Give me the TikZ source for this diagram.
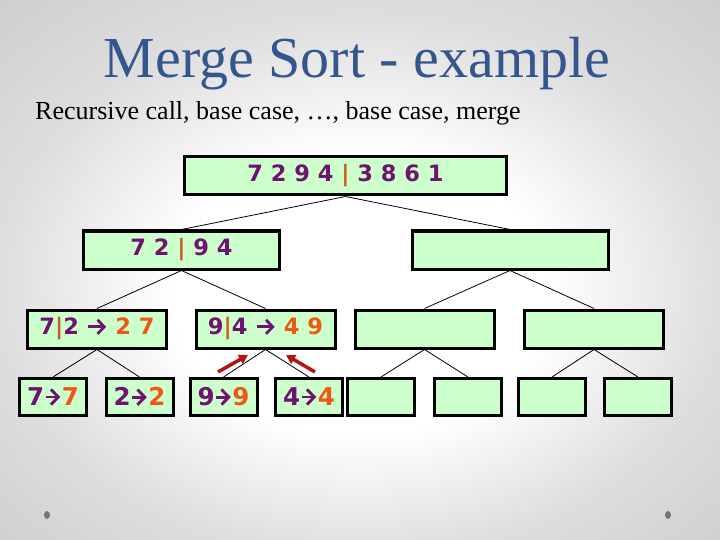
\documentclass[tikz,border=0pt]{standalone}
\usepackage{fontspec}
\setmainfont{Liberation Serif}
\newfontfamily\digitfont{DejaVu Sans}
\usetikzlibrary{arrows.meta}
\definecolor{titleblue}{RGB}{52,86,142}
\definecolor{sortpurple}{RGB}{112,18,112}
\definecolor{sortorange}{RGB}{238,88,18}
\definecolor{barorange}{RGB}{204,92,28}
\definecolor{boxgreen}{RGB}{204,255,204}
\definecolor{callred}{RGB}{178,22,22}
\definecolor{dotgray}{RGB}{118,118,118}
\pgfdeclareradialshading{slideglow}{\pgfpoint{0bp}{-3bp}}{color(0bp)=(white);
  color(13bp)=(white); color(25bp)=(black!13); color(36bp)=(black!19);
  color(50bp)=(black!19)}
\newcommand{\pd}[1]{\textcolor{sortpurple}{#1}}
\newcommand{\od}[1]{\textcolor{sortorange}{#1}}
\newcommand{\cut}{\textcolor{barorange}{|}}
% thick open-headed arrow, as drawn in the merge results
\newcommand{\goes}[1][0.8em]{\tikz[baseline=0pt]\draw[sortpurple,
  line width=0.12em, -{Straight Barb[length=0.3em, width=0.62em]}]
  (0pt,0.36em) -- (#1,0.36em);}
\tikzset{
  sortbox/.style={rectangle, draw=black, line width=3pt, fill=boxgreen,
    minimum height=38pt, inner sep=0pt,
    font=\digitfont\bfseries\fontsize{22.5}{26}\selectfont},
  toprow/.style={sortbox, minimum width=322pt},
  halfrow/.style={sortbox, minimum width=196pt},
  quarterrow/.style={sortbox, minimum width=139pt},
  leafbox/.style={sortbox, minimum width=67pt, minimum height=37pt,
    font=\digitfont\bfseries\fontsize{24.5}{28}\selectfont},
  link/.style={draw=black, line width=0.8pt},
  callarrow/.style={-{Triangle[length=9pt,width=10pt]}, line width=3.5pt,
    color=callred},
}

\begin{document}
\begin{tikzpicture}[x=1pt, y=-1pt]
  % slide background
  \useasboundingbox (0,0) rectangle (720,540);
  \shade[shading=slideglow] (0,0) rectangle (720,540);
  \fill[dotgray] (47,515) ellipse [x radius=3, y radius=4];
  \fill[dotgray] (668,515) ellipse [x radius=3, y radius=4];
  \node[font=\fontsize{12}{14}\selectfont, text=white!92!black] (pageno)
    at (523,508) {35};
  % title
  \node[anchor=base, font=\fontsize{58}{64}\selectfont, text=titleblue]
    (title) at (357,78) {Merge Sort - example};
  \node[anchor=base west, inner sep=0pt, font=\fontsize{26}{30}\selectfont]
    (subtitle) at (35,120) {Recursive call, base case, \ldots, base case, merge};
  % recursion tree
  \node[toprow] (root) at (345.5,176) {\pd{7 2 9 4} \cut{} \pd{3 8 6 1}};
  \node[halfrow] (left) at (181.5,250) {\pd{7 2} \cut{} \pd{9 4}};
  \node[halfrow] (right) at (510,250) {};
  \node[quarterrow] (ll) at (97,329) {\pd{7}\cut\pd{2} \goes{} \od{2 7}};
  \node[quarterrow] (lr) at (265.5,329) {\pd{9}\cut\pd{4} \goes{} \od{4 9}};
  \node[quarterrow] (rl) at (424.5,329) {};
  \node[quarterrow] (rr) at (594,329) {};
  \node[leafbox] (lll) at (53,397) {\pd{7}\goes[0.6em]\od{7}};
  \node[leafbox] (llr) at (139.5,397) {\pd{2}\goes[0.6em]\od{2}};
  \node[leafbox] (lrl) at (223.5,397) {\pd{9}\goes[0.6em]\od{9}};
  \node[leafbox] (lrr) at (309,397) {\pd{4}\goes[0.6em]\od{4}};
  \node[leafbox] (rll) at (381,397) {};
  \node[leafbox] (rlr) at (468,397) {};
  \node[leafbox] (rrl) at (552,397) {};
  \node[leafbox] (rrr) at (638,397) {};
  % links
  \draw[link] (root.south) -- (left.north);
  \draw[link] (root.south) -- (right.north);
  \draw[link] (left.south) -- (ll.north);
  \draw[link] (left.south) -- (lr.north);
  \draw[link] (right.south) -- (rl.north);
  \draw[link] (right.south) -- (rr.north);
  \draw[link] (ll.south) -- (lll.north);
  \draw[link] (ll.south) -- (llr.north);
  \draw[link] (lr.south) -- (lrl.north);
  \draw[link] (lr.south) -- (lrr.north);
  \draw[link] (rl.south) -- (rll.north);
  \draw[link] (rl.south) -- (rlr.north);
  \draw[link] (rr.south) -- (rrl.north);
  \draw[link] (rr.south) -- (rrr.north);
  % return arrows
  \coordinate (lefttail) at (218,372);
  \coordinate (lefthead) at (248,355);
  \coordinate (righttail) at (315,372);
  \coordinate (righthead) at (286,355);
  \draw[callarrow] (lefttail) -- (lefthead);
  \draw[callarrow] (righttail) -- (righthead);
\end{tikzpicture}
\end{document}
